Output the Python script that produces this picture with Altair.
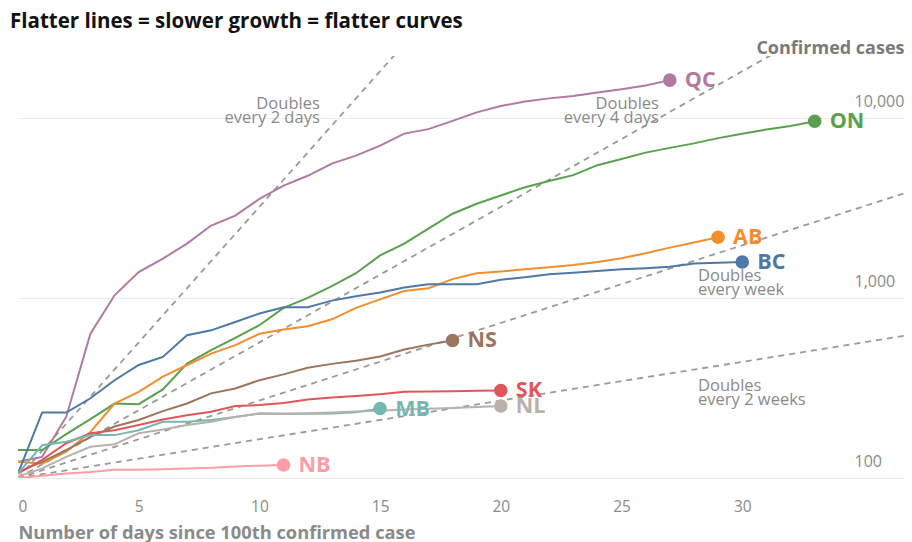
import altair as alt
import pandas as pd

# ---- data ----
provinces = ["QC", "ON", "AB", "BC", "NS", "SK", "MB", "NL", "NB"]
colors = ["#b07aa1", "#59a14f", "#f28e2b", "#4e79a7", "#9c755f",
          "#e15759", "#76b7b2", "#bab0ac", "#ff9da7"]

qc = [123, 131, 219, 632, 1033, 1390, 1650, 2000, 2520, 2860, 3540, 4200, 4760,
      5560, 6160, 7000, 8160, 8640, 9600, 10700, 11600, 12300, 12800, 13200,
      13800, 14400, 15100, 16160]
on = [143, 143, 175, 212, 259, 257, 310, 432, 512, 600, 705, 880, 1000, 1160,
      1370, 1720, 2000, 2420, 2930, 3330, 3700, 4110, 4450, 4800, 5450, 5900,
      6400, 6800, 7200, 7700, 8150, 8600, 9000, 9560]
ab = [123, 120, 140, 180, 259, 301, 365, 424, 490, 546, 632, 667, 695, 760, 880,
      980, 1090, 1130, 1270, 1370, 1400, 1440, 1480, 1520, 1580, 1660, 1770,
      1900, 2030, 2170]
bc = [106, 231, 231, 277, 349, 424, 470, 620, 660, 735, 818, 886, 886, 965, 1020,
      1070, 1140, 1190, 1190, 1190, 1260, 1300, 1350, 1380, 1410, 1440, 1460,
      1490, 1550, 1565, 1580]
ns = [108, 123, 143, 169, 193, 210, 235, 259, 295, 314, 349, 376, 409, 430, 448,
      473, 517, 550, 580]
sk = [106, 126, 156, 177, 184, 197, 211, 223, 233, 251, 254, 261, 273, 280, 285,
      292, 301, 302, 303, 305, 306]
mb = [106, 152, 159, 173, 173, 184, 205, 205, 210, 218, 228, 227, 227, 228, 232,
      243]
nl = [102, 113, 131, 149, 154, 177, 186, 197, 205, 218, 228, 227, 229, 231, 234,
      236, 240, 242, 245, 248, 251]
nb = [100, 103, 106, 108, 111, 111, 112, 113, 114, 116, 117, 118]

series = {"QC": qc, "ON": on, "AB": ab, "BC": bc, "NS": ns, "SK": sk,
          "MB": mb, "NL": nl, "NB": nb}

# doubling-time guide lines (start and end points)
ref_names = ["2 days", "4 days", "week", "2 weeks"]
ref_start_day = [0, 0, 0, 0]
ref_start_val = [100, 100, 100, 100]
ref_end_day = [16, 32, 36.7, 36.7]
ref_end_val = [25600, 25600, 3800, 615]

# annotations
ann_text = ["Doubles\nevery 2 days", "Doubles\nevery 4 days",
            "Doubles\nevery week", "Doubles\nevery 2 weeks"]
ann_day = [12.5, 26.55, 28.17, 28.17]
ann_val = [11900, 11900, 1325, 324]
ann_side = ["right", "right", "left", "left"]

x_ticks = [0, 5, 10, 15, 20, 25, 30]
y_ticks = [100, 1000, 10000]

FONT = "Open Sans"

# ---- tables ----
rows = []
for p in provinces:
    for d, v in enumerate(series[p]):
        rows.append({"prov": p, "day": d, "cases": v})
df = pd.DataFrame(rows)
last = df.groupby("prov").tail(1)

ref_rows = []
for n, d0, v0, d1, v1 in zip(ref_names, ref_start_day, ref_start_val, ref_end_day, ref_end_val):
    ref_rows.append({"ref": n, "day": d0, "cases": v0})
    ref_rows.append({"ref": n, "day": d1, "cases": v1})
ref_df = pd.DataFrame(ref_rows)

ann_df = pd.DataFrame({"text": ann_text, "day": ann_day, "cases": ann_val, "side": ann_side})

xscale = alt.Scale(domain=[0, 36.7], nice=False, zero=False)
yscale = alt.Scale(type="log", domain=[100, 22000], nice=False)
cscale = alt.Scale(domain=provinces, range=colors)

xaxis = alt.Axis(values=x_ticks, title="Number of days since 100th confirmed case",
                 titleAnchor="start", titleAlign="left", titleFontWeight="bold",
                 titleFontSize=18.3, titleColor="#8a8a8a", titlePadding=10,
                 titleFont=FONT,
                 labelFontSize=15.5, labelColor="#8a8a8a", labelFont=FONT,
                 ticks=False, tickSize=0, domain=False, grid=False, labelPadding=21)
yaxis = alt.Axis(orient="right", values=y_ticks, format=",", grid=True,
                 gridColor="#ebebeb", ticks=False, tickSize=0, domain=False,
                 labelAlign="left", labelPadding=-50, labelBaseline="alphabetic",
                 labelOffset=-11.5, labelFontSize=16, labelColor="#8a8a8a", labelFont=FONT,
                 title="Confirmed cases", titleAngle=0, titleAlign="right",
                 titleBaseline="alphabetic", titleX=0, titleY=-2.5,
                 titleFontWeight="bold", titleFontSize=18, titleColor="#7a7a7a",
                 titleFont=FONT)

refs = alt.Chart(ref_df).mark_line(strokeDash=[6, 5], color="#9a9a9a",
                                   strokeWidth=1.8, clip=True).encode(
    x=alt.X("day:Q", scale=xscale, axis=xaxis),
    y=alt.Y("cases:Q", scale=yscale, axis=yaxis),
    detail="ref:N",
)

lines = alt.Chart(df).mark_line(strokeWidth=2, clip=True).encode(
    x=alt.X("day:Q", scale=xscale),
    y=alt.Y("cases:Q", scale=yscale),
    color=alt.Color("prov:N", scale=cscale, legend=None),
    order="day:Q",
)

dots = alt.Chart(last).mark_point(filled=True, size=185, opacity=1).encode(
    x=alt.X("day:Q", scale=xscale),
    y=alt.Y("cases:Q", scale=yscale),
    color=alt.Color("prov:N", scale=cscale, legend=None),
)

labels = alt.Chart(last).mark_text(align="left", baseline="middle", dx=15, dy=1,
                                   fontSize=21.5, fontWeight="bold", font=FONT).encode(
    x=alt.X("day:Q", scale=xscale),
    y=alt.Y("cases:Q", scale=yscale),
    text="prov:N",
    color=alt.Color("prov:N", scale=cscale, legend=None),
)

ann_r = alt.Chart(ann_df).transform_filter(alt.datum.side == "right").mark_text(
    align="right", baseline="middle", lineBreak="\n", lineHeight=14,
    fontSize=16.5, color="#8a8a8a", font=FONT).encode(
    x=alt.X("day:Q", scale=xscale),
    y=alt.Y("cases:Q", scale=yscale),
    text="text:N",
)
ann_l = alt.Chart(ann_df).transform_filter(alt.datum.side == "left").mark_text(
    align="left", baseline="middle", lineBreak="\n", lineHeight=14,
    fontSize=16.5, color="#8a8a8a", font=FONT).encode(
    x=alt.X("day:Q", scale=xscale),
    y=alt.Y("cases:Q", scale=yscale),
    text="text:N",
)

chart = alt.layer(refs, lines, dots, labels, ann_r, ann_l).properties(
    width=886, height=422,
    autosize=alt.AutoSizeParams(type="none"),
    padding={"left": 10, "top": 48, "right": 0, "bottom": 64},
    title=alt.TitleParams("Flatter lines = slower growth = flatter curves",
                          anchor="start", fontSize=20.5, fontWeight="bold",
                          color="#111111", font=FONT, dx=-8, dy=-3),
).configure_view(stroke=None)

chart.save("out.html", embed_options={"renderer": "svg", "actions": False})
